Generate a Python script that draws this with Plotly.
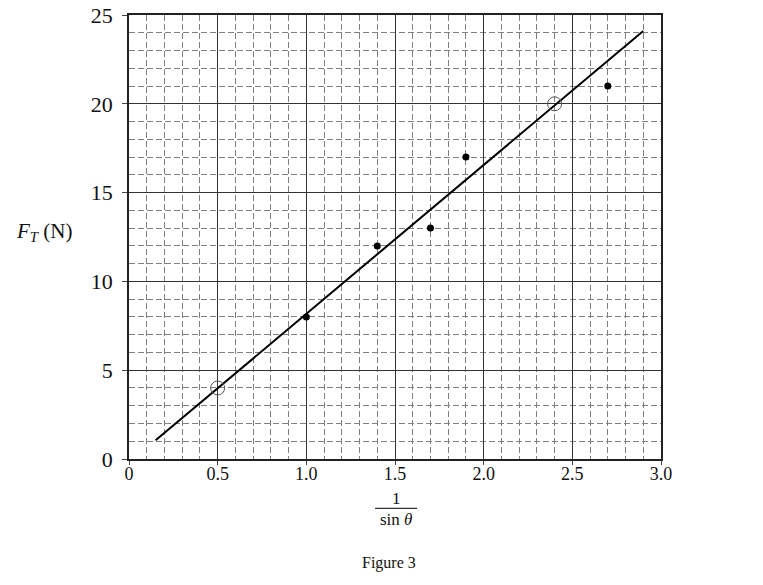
import plotly.graph_objects as go

# ---- data ----
inv_sin = [1.0, 1.4, 1.7, 1.9, 2.7]
force_N = [8, 12, 13, 17, 21]
chosen_x = [0.5, 2.4]
chosen_y = [4, 20]
fit_x = [0.15, 2.9]
fit_y = [1.05, 24.1]
x_tickvals = [0, 0.5, 1.0, 1.5, 2.0, 2.5, 3.0]
x_ticktext = ["0", "0.5", "1.0", "1.5", "2.0", "2.5", "3.0"]
y_tickvals = [0, 5, 10, 15, 20, 25]
y_ticktext = ["0", "5", "10", "15", "20", "25"]

FONT = "Liberation Serif"
TXT = "#111"
W, H = 763, 585
L, R, T, B = 129.3, 660.5, 15, 458.7  # target plot area in page pixels


def px(x):
    return (x - L) / (R - L)


def py(y):
    return (B - y) / (B - T)


fig = go.Figure()
fig.add_trace(go.Scatter(x=fit_x, y=fit_y, mode="lines",
                         line=dict(color="black", width=2), hoverinfo="skip"))
fig.add_trace(go.Scatter(x=inv_sin, y=force_N, mode="markers",
                         marker=dict(color="black", size=7)))
fig.add_trace(go.Scatter(x=chosen_x, y=chosen_y, mode="markers",
                         marker=dict(symbol="circle-open", color="#555", size=14,
                                     line=dict(width=1, color="#555"))))

grid_major = dict(showgrid=True, gridcolor="#333", gridwidth=1.3)
fig.update_xaxes(range=[0, 3], tickvals=x_tickvals, ticktext=x_ticktext,
                 showline=True, mirror=True, linecolor="#222", linewidth=1.5,
                 ticks="outside", ticklen=4, tickcolor="#444", zeroline=False,
                 automargin=False, ticklabelstandoff=-6,
                 tickfont=dict(family=FONT, size=18, color=TXT),
                 minor=dict(dtick=0.1, tick0=0, showgrid=True, gridcolor="#808080",
                            gridwidth=1, griddash="6px,3px"),
                 **grid_major)
fig.update_yaxes(range=[0, 25], tickvals=y_tickvals, ticktext=y_ticktext,
                 showline=True, mirror=True, linecolor="#222", linewidth=1.5,
                 ticks="outside", ticklen=5, tickcolor="#444", zeroline=False,
                 automargin=False, ticklabelstandoff=5,
                 tickfont=dict(family=FONT, size=22, color=TXT),
                 minor=dict(dtick=1, tick0=0, showgrid=True, gridcolor="#808080",
                            gridwidth=1, griddash="6px,3px"),
                 **grid_major)

annotations = [
    dict(text="<i>F</i><sub><i>T</i></sub> (N)", x=px(44), y=py(232),
         font=dict(family=FONT, size=21, color=TXT)),
    dict(text="1", x=px(396), y=py(498), font=dict(family=FONT, size=17, color=TXT)),
    dict(text="sin <i>θ</i>", x=px(396), y=py(519), font=dict(family=FONT, size=17, color=TXT)),
    dict(text="Figure 3", x=px(389), y=py(563), font=dict(family=FONT, size=16, color=TXT)),
]
for a in annotations:
    a.update(xref="paper", yref="paper", showarrow=False, xanchor="center", yanchor="middle")

fig.update_layout(
    template="none",
    width=W, height=H,
    margin=dict(l=129, r=102, t=15, b=126, pad=0),
    paper_bgcolor="white", plot_bgcolor="white",
    showlegend=False,
    hovermode=False,
    annotations=annotations,
    shapes=[dict(type="line", xref="paper", yref="paper",
                 x0=px(375), x1=px(417), y0=py(508), y1=py(508),
                 line=dict(color="#333", width=1.3))],
)

fig.write_html("out.html", config={"displayModeBar": False},
               post_script="document.body.style.margin='0';document.body.style.overflow='hidden';")
